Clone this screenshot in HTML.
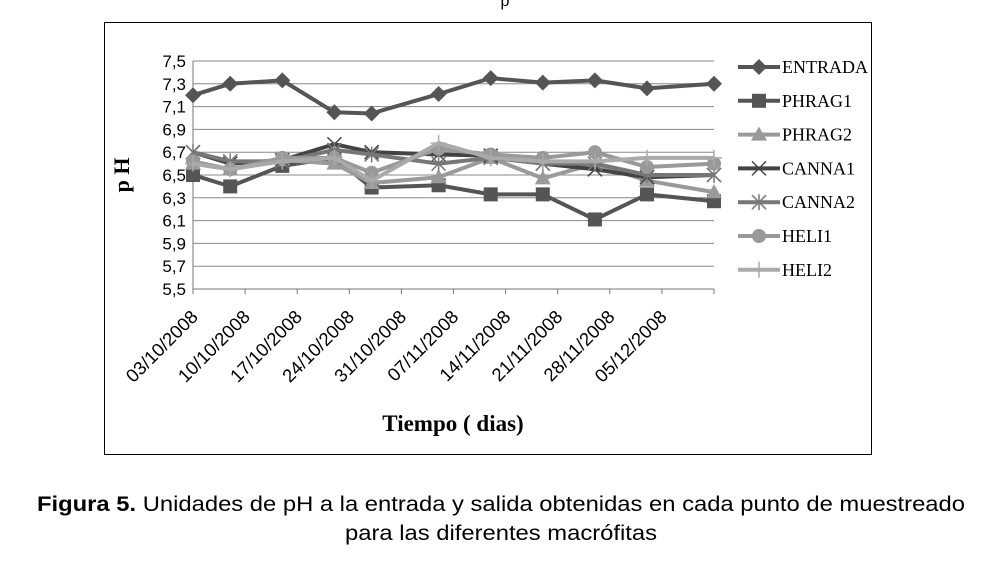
<!DOCTYPE html>
<html><head><meta charset="utf-8"><style>
body{margin:0;background:#fff;width:981px;height:560px;overflow:hidden;font-family:"Liberation Sans",sans-serif}
</style></head><body>
<svg width="981" height="560" id="svg">
<text x="505" y="6" font-family="Liberation Sans" font-size="16" text-anchor="middle">p</text>
<rect x="104.5" y="22.5" width="767" height="432" fill="none" stroke="#000" stroke-width="1"/>
<g id="grid"></g><g id="series"></g><g id="legend"></g>
<text transform="translate(129,175) rotate(-90)" text-anchor="middle" font-family="Liberation Serif" font-weight="bold" font-size="22">p H</text>
<text x="453" y="431" text-anchor="middle" font-family="Liberation Serif" font-weight="bold" font-size="23">Tiempo ( dias)</text>
<text x="37" y="511" font-size="21" textLength="928" lengthAdjust="spacingAndGlyphs"><tspan font-weight="bold">Figura 5.</tspan> Unidades de pH a la entrada y salida obtenidas en cada punto de muestreado</text>
<text x="345" y="540" font-size="21" textLength="312" lengthAdjust="spacingAndGlyphs">para las diferentes macrófitas</text>
</svg>
<script>
const days=[0,5,12,19,24,33,40,47,54,61,70];
const tickLabels=["03/10/2008","10/10/2008","17/10/2008","24/10/2008","31/10/2008","07/11/2008","14/11/2008","21/11/2008","28/11/2008","05/12/2008"];
const yTicks=[5.5,5.7,5.9,6.1,6.3,6.5,6.7,6.9,7.1,7.3,7.5];
const seriesNames=["ENTRADA","PHRAG1","PHRAG2","CANNA1","CANNA2","HELI1","HELI2"];
const entrada=[7.2,7.3,7.33,7.05,7.04,7.21,7.35,7.31,7.33,7.26,7.3];
const phrag1=[6.5,6.4,6.58,6.65,6.39,6.41,6.33,6.33,6.11,6.33,6.27];
const phrag2=[6.6,6.55,6.63,6.6,6.43,6.48,6.65,6.47,6.6,6.45,6.35];
const canna1=[6.7,6.6,6.63,6.77,6.7,6.68,6.67,6.6,6.55,6.48,6.5];
const canna2=[6.7,6.62,6.62,6.72,6.68,6.6,6.65,6.6,6.6,6.5,6.5];
const heli1=[6.62,6.55,6.65,6.65,6.52,6.73,6.68,6.65,6.7,6.57,6.6];
const heli2=[6.6,6.55,6.62,6.65,6.45,6.78,6.65,6.62,6.62,6.65,6.65];
const NS="http://www.w3.org/2000/svg";
const X=d=>193+d*(714-193)/70, Y=v=>289-(v-5.5)*114;
function mk(t,a,p){const e=document.createElementNS(NS,t);for(const k in a)e.setAttribute(k,a[k]);p.appendChild(e);return e;}
const grid=document.getElementById('grid');
yTicks.forEach(v=>{
 if(v>5.5){const l=mk('line',{x1:193,x2:714,y1:Y(v),y2:Y(v),stroke:'#888','stroke-width':1},grid);
 
 }
 const t=mk('text',{x:186,y:Y(v)+6,'text-anchor':'end','font-size':17,'font-family':'Liberation Sans'},grid);
 t.textContent=String(v).replace('.',',');
 
 
});
mk('line',{x1:193,x2:193,y1:Y(7.5),y2:Y(5.5)+5,stroke:'#777'},grid);
mk('line',{x1:193,x2:714,y1:Y(5.5),y2:Y(5.5),stroke:'#777'},grid);
tickLabels.forEach((s,i)=>{
 const x=X(i*7);
 mk('line',{x1:x,x2:x,y1:289,y2:294,stroke:'#777'},grid);
 const t=mk('text',{transform:`translate(${x+6},${318}) rotate(-45)`,'text-anchor':'end','font-size':18.5,'font-family':'Liberation Sans'},grid);
 t.textContent=s;
 
 
});
mk('line',{x1:714,x2:714,y1:289,y2:294,stroke:'#777'},grid);
const data=[entrada,phrag1,phrag2,canna1,canna2,heli1,heli2];
const colors=['#555','#555','#9a9a9a','#444','#777','#999','#aaa'];
const markers=['diamond','square','triangle','x','star','circle','plus'];
function marker(g,type,x,y,c){
 if(type=='diamond')mk('polygon',{points:`${x},${y-8} ${x+8},${y} ${x},${y+8} ${x-8},${y}`,fill:c},g);
 else if(type=='square')mk('rect',{x:x-7,y:y-7,width:14,height:14,fill:c},g);
 else if(type=='triangle')mk('polygon',{points:`${x},${y-8} ${x+8},${y+6} ${x-8},${y+6}`,fill:c},g);
 else if(type=='circle')mk('circle',{cx:x,cy:y,r:7,fill:c},g);
 else if(type=='x')mk('path',{d:`M${x-7},${y-7}L${x+7},${y+7}M${x+7},${y-7}L${x-7},${y+7}`,stroke:c,'stroke-width':1.5},g);
 else if(type=='star')mk('path',{d:`M${x-7},${y-7}L${x+7},${y+7}M${x+7},${y-7}L${x-7},${y+7}M${x},${y-8}L${x},${y+8}`,stroke:c,'stroke-width':1.5},g);
 else mk('path',{d:`M${x-8},${y}L${x+8},${y}M${x},${y-8}L${x},${y+8}`,stroke:c,'stroke-width':1.5},g);
}
const sg=document.getElementById('series'),lg=document.getElementById('legend');
data.forEach((arr,si)=>{
 const g=mk('g',{},sg);
 
 
 mk('polyline',{points:arr.map((v,i)=>X(days[i])+','+Y(v)).join(' '),fill:'none',stroke:colors[si],'stroke-width':4,'stroke-linejoin':'round'},g);
 arr.forEach((v,i)=>marker(g,markers[si],X(days[i]),Y(v),colors[si]));
 const ly=67+si*33.8;
 const e=mk('g',{},lg);
 
 
 mk('line',{x1:738,x2:780,y1:ly,y2:ly,stroke:colors[si],'stroke-width':4},e);
 marker(e,markers[si],759,ly,colors[si]);
 const t=mk('text',{x:782,y:ly+6,'font-family':'Liberation Serif','font-size':18},e);
 t.textContent=seriesNames[si];
});
</script>
</body></html>
